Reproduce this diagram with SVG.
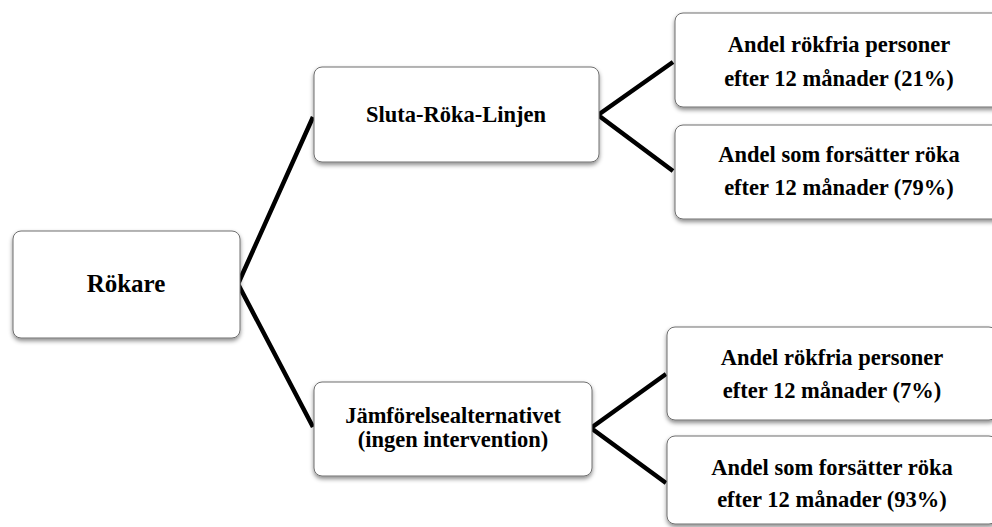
<svg xmlns="http://www.w3.org/2000/svg" width="992" height="527" viewBox="0 0 992 527">
<defs>
<filter id="sh" x="-10%" y="-10%" width="120%" height="130%">
<feDropShadow dx="0" dy="2.5" stdDeviation="2" flood-color="#000" flood-opacity="0.45"/>
</filter>
<style>
.box{fill:#fff;stroke:#6e6e6e;stroke-width:1;filter:url(#sh)}
.t{font-family:"Liberation Serif","Times New Roman",serif;font-weight:bold;font-size:22.5px;fill:#000;text-anchor:middle}
.c{fill:none;stroke:#000;stroke-width:4.5;stroke-linejoin:miter}
</style>
</defs>
<rect width="992" height="527" fill="#fff"/>
<g id="connectors">
<polyline class="c" points="313,117 238,284 313,427"/>
<polyline class="c" points="673,62 598,115 673,171"/>
<polyline class="c" points="666,374 591,428 666,483"/>
</g>
<g id="rokare">
<rect class="box" x="13" y="231" width="227" height="107" rx="8"/>
<text class="t" x="126" y="292" style="font-size:25px">Rökare</text>
</g>
<g id="sluta">
<rect class="box" x="314" y="67" width="285" height="95" rx="8"/>
<text class="t" x="456" y="122">Sluta-Röka-Linjen</text>
</g>
<g id="jamfor">
<rect class="box" x="314" y="382" width="278" height="94" rx="8"/>
<text class="t" x="453" y="423">Jämförelsealternativet</text>
<text class="t" x="453" y="447">(ingen intervention)</text>
</g>
<g id="slr-rokfria">
<rect class="box" x="675" y="13" width="330" height="94" rx="8"/>
<text class="t" x="839" y="52">Andel rökfria personer</text>
<text class="t" x="839" y="86">efter 12 månader (21%)</text>
</g>
<g id="slr-roker">
<rect class="box" x="675" y="125" width="330" height="94" rx="8"/>
<text class="t" x="839" y="162">Andel som forsätter röka</text>
<text class="t" x="839" y="195">efter 12 månader (79%)</text>
</g>
<g id="jmf-rokfria">
<rect class="box" x="667" y="327" width="330" height="93" rx="8"/>
<text class="t" x="832" y="365">Andel rökfria personer</text>
<text class="t" x="832" y="398">efter 12 månader (7%)</text>
</g>
<g id="jmf-roker">
<rect class="box" x="667" y="436" width="330" height="88" rx="8"/>
<text class="t" x="832" y="475">Andel som forsätter röka</text>
<text class="t" x="832" y="507">efter 12 månader (93%)</text>
</g>
</svg>
